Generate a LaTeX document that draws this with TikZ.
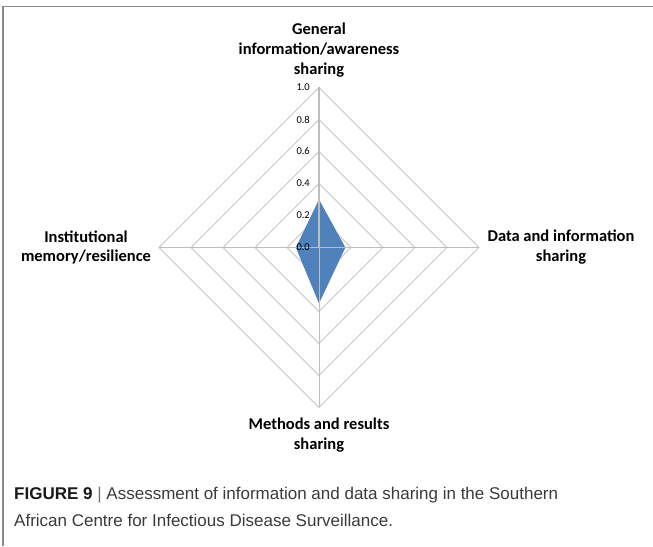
\documentclass[tikz,border=0pt]{standalone}
\usepackage{fontspec}
\setmainfont{Carlito}
\newfontfamily\capfont{Liberation Sans}
\usetikzlibrary{positioning}
\definecolor{gridgray}{HTML}{C6C6C6}
\definecolor{axisgray}{HTML}{BDBDBD}
\definecolor{areablue}{HTML}{4F81BD}
\definecolor{framegray}{HTML}{8A8A8A}
\definecolor{captext}{HTML}{3A3A3A}

\begin{document}
\begin{tikzpicture}[x=1pt,y=1pt,
    ring/.style={gridgray, line width=0.9pt},
    spoke/.style={axisgray, line width=0.9pt},
    axis label/.style={font=\bfseries\fontsize{16.5}{20}\selectfont, align=center, inner sep=0pt},
    tick label/.style={font=\fontsize{10.5}{12}\selectfont, anchor=east, inner sep=0pt}]
    \useasboundingbox (0,0) rectangle (653,546);

    % Frame (top and left edges only)
    \draw[framegray, line width=1.3pt] (3,0) -- (3,539.5) -- (653,539.5);

    \begin{scope}[shift={(319,298.5)}]
        % Centre and ends of the four axes
        \coordinate (c) at (0,0);
        \coordinate (top) at (0,160);
        \coordinate (right) at (160,0);
        \coordinate (bottom) at (0,-160);
        \coordinate (left) at (-160,0);

        % Rings 0.2 ... 1.0
        \foreach \r in {32,64,96,128,160}
            \draw[ring] (0,\r) -- (\r,0) -- (0,-\r) -- (-\r,0) -- cycle;

        % Data area
        \fill[areablue] (0,48) -- (26.4,0) -- (0,-56) -- (-23.2,0) -- cycle;

        % Axes
        \draw[spoke] (c) -- (right);
        \draw[spoke] (c) -- (bottom);
        \draw[spoke] (c) -- (left);
        \draw[spoke, line width=1.6pt] (c) -- (top);

        % Scale
        \foreach \v [count=\i from 0] in {0.0,0.2,0.4,0.6,0.8,1.0}
            \node[tick label] (tick\i) at (-9,\i*32) {\v};

        % Axis labels
        \node[axis label] (general) at (0,197.5) {General\\information/awareness\\sharing};
        \node[axis label] (data) at (242,0) {Data and information\\sharing};
        \node[axis label] (methods) at (0,-187.5) {Methods and results\\sharing};
        \node[axis label] (memory) at (-233,0) {Institutional\\memory/resilience};
    \end{scope}

    % Caption
    \node[anchor=west, align=left, inner sep=0pt, text=captext,
        font=\capfont\fontsize{17}{27}\selectfont] (caption) at (14,39)
        {{\color{black!90}\textbf{FIGURE 9}} {\color{black!55}|} Assessment of information and data sharing in the Southern\\African Centre for Infectious Disease Surveillance.};
\end{tikzpicture}
\end{document}
